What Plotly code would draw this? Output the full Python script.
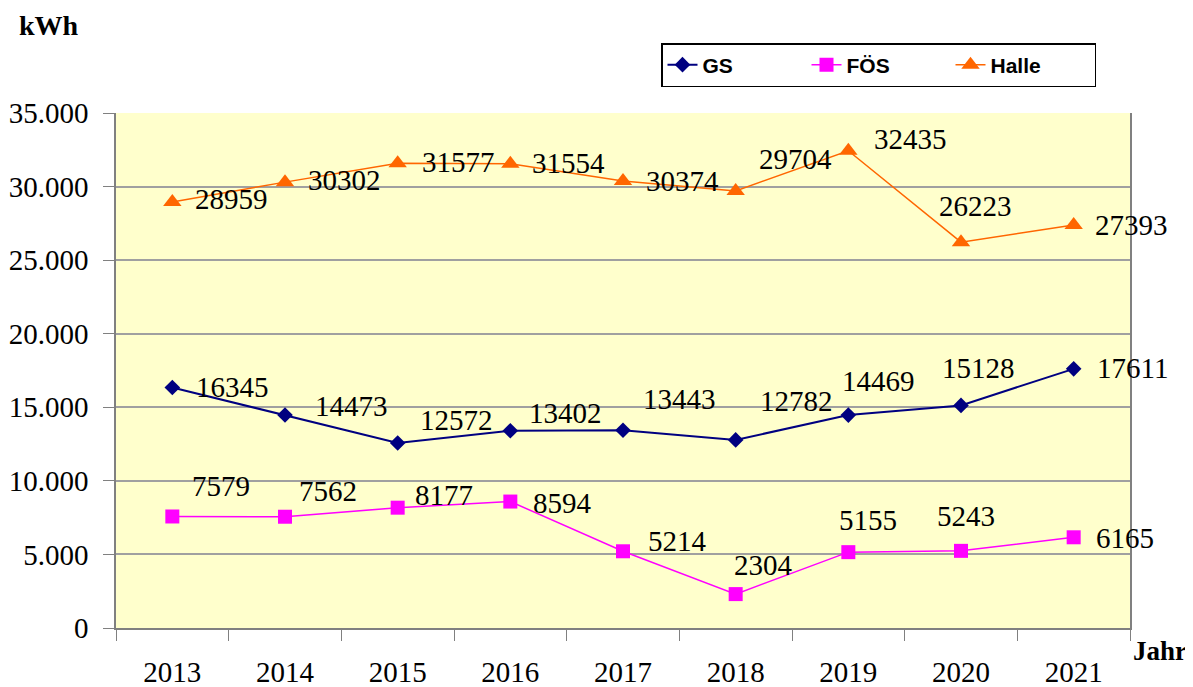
import plotly.graph_objects as go

# Data
years = ["2013", "2014", "2015", "2016", "2017", "2018", "2019", "2020", "2021"]
gs = [16345, 14473, 12572, 13402, 13443, 12782, 14469, 15128, 17611]
foes = [7579, 7562, 8177, 8594, 5214, 2304, 5155, 5243, 6165]
halle = [28959, 30302, 31577, 31554, 30374, 29704, 32435, 26223, 27393]

# label offsets in px (dx right, dy up) - hand placed like in the original chart
gs_off = [(60, 1), (66, 9), (59, 23), (55, 18), (56, 31), (61, 39), (30, 34), (17, 37), (59, 1)]
foes_off = [(49, 30), (43, 26), (46, 13), (52, -1), (54, 10), (28, 29), (20, 32), (5, 35), (51, -1)]
halle_off = [(59, 3), (59, 2), (61, 1), (58, 1), (59, 0), (60, 32), (62, 12), (14, 36), (58, 0)]

serif = "Liberation Serif, Times New Roman, serif"
sans = "Liberation Sans, Arial, sans-serif"

# the page body has an 8px margin, so the figure is shifted by that much
OFF = 8
W, H = 1193 - OFF, 687 - OFF
pl, pt = 116 - OFF, 113 - OFF
pw, ph = 1014, 515
pr, pb = W - pl - pw, H - pt - ph


def px_to_paper(x, y):
    # screen pixel -> paper coords
    return (x - OFF - pl) / pw, 1 - (y - OFF - pt) / ph


fig = go.Figure()

series = [
    ("GS", gs, "#000080", "diamond", 12, 2, gs_off),
    ("FÖS", foes, "#FF00FF", "square", 14, 1.5, foes_off),
    ("Halle", halle, "#FF6600", "triangle-up", 16, 1.5, halle_off),
]

for name, vals, color, symbol, msize, lw, offs in series:
    fig.add_trace(
        go.Scatter(
            x=years,
            y=vals,
            name=name,
            mode="lines+markers",
            line=dict(color=color, width=lw),
            marker=dict(symbol=symbol, size=msize, color=color),
        )
    )
    # value labels (category index as x, so "2013" is not read as an index)
    for i, (v, (dx, dy)) in enumerate(zip(vals, offs)):
        fig.add_annotation(
            x=i, y=v, xref="x", yref="y",
            text=str(v), showarrow=False,
            xanchor="center", yanchor="middle",
            xshift=dx, yshift=dy,
            font=dict(family=serif, size=29, color="black"),
        )

# axis titles
kx, ky = px_to_paper(49, 25)
fig.add_annotation(
    x=kx, y=ky, xref="paper", yref="paper", text="<b>kWh</b>", showarrow=False,
    xanchor="center", yanchor="middle",
    font=dict(family=serif, size=28, color="black"),
)
jx, jy = px_to_paper(1160, 651)
fig.add_annotation(
    x=jx, y=jy, xref="paper", yref="paper", text="<b>Jahr</b>", showarrow=False,
    xanchor="center", yanchor="middle",
    font=dict(family=serif, size=27, color="black"),
)

lx, ly = px_to_paper(661, 43)

fig.update_layout(
    template="none",
    width=W,
    height=H,
    margin=dict(l=pl, r=pr, t=pt, b=pb),
    paper_bgcolor="white",
    plot_bgcolor="#FFFFCC",
    separators=",.",
    showlegend=True,
    legend=dict(
        orientation="h",
        x=lx,
        y=ly,
        xanchor="left",
        yanchor="top",
        bgcolor="white",
        bordercolor="black",
        borderwidth=1.5,
        font=dict(family=sans, size=21, color="black", weight="bold"),
        entrywidth=99,
        entrywidthmode="pixels",
    ),
    xaxis=dict(
        type="category",
        range=[-0.5, len(years) - 0.5],
        automargin=False,
        tickson="boundaries",
        ticks="outside",
        ticklen=11,
        tickcolor="#808080",
        showline=True,
        linecolor="#808080",
        linewidth=1.5,
        showgrid=False,
        ticklabelstandoff=17,
        tickfont=dict(family=serif, size=29, color="black"),
    ),
    yaxis=dict(
        range=[0, 35000],
        automargin=False,
        dtick=5000,
        tickformat=",d",
        ticks="outside",
        ticklen=11,
        tickcolor="#808080",
        showline=True,
        linecolor="#808080",
        linewidth=1.5,
        mirror=True,
        showgrid=True,
        gridcolor="#A0A0A0",
        gridwidth=1.5,
        zeroline=False,
        ticklabelstandoff=9,
        tickfont=dict(family=serif, size=29, color="black"),
    ),
)

fig.write_html("out.html")
